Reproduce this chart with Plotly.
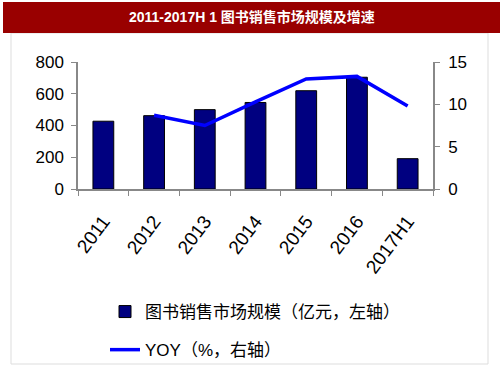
import plotly.graph_objects as go

categories = ["2011", "2012", "2013", "2014", "2015", "2016", "2017H1"]
market_size = [427, 462, 500, 545, 619, 704, 191]
yoy_x = ["2012", "2013", "2014", "2015", "2016", "2017H1"]
yoy = [8.7, 7.5, 10.3, 13.0, 13.3, 9.8]

title_text = "2011-2017H 1 图书销售市场规模及增速"
bar_name = "图书销售市场规模（亿元，左轴）"
line_name = "YOY（%，右轴）"

FONT = "Arial, 'Liberation Sans', 'Noto Sans CJK SC', sans-serif"

fig = go.Figure()
fig.add_trace(go.Bar(
    x=categories, y=market_size, name=bar_name,
    marker=dict(color="#000080", line=dict(color="#000000", width=1)),
    width=0.41, legendgroup="a", yaxis="y",
))
fig.add_trace(go.Scatter(
    x=yoy_x, y=yoy, name=line_name, mode="lines",
    line=dict(color="#0000FF", width=3.5), legendgroup="b", yaxis="y2",
))

W, H = 503, 378
L, R, T, B = 78, 70, 62, 189
pw, ph = W - L - R, H - T - B

def px(x):
    return (x - L) / pw

def py(y):
    return (H - B - y) / ph

fig.update_layout(
    width=W, height=H,
    margin=dict(l=L, r=R, t=T, b=B, pad=0, autoexpand=False),
    paper_bgcolor="white", plot_bgcolor="white",
    font=dict(family=FONT, size=16, color="#000000"),
    showlegend=True,
    legend=dict(
        x=px(105), y=py(294), xanchor="left", yanchor="top",
        orientation="v", traceorder="grouped", tracegroupgap=13,
        font=dict(size=17, family=FONT), bgcolor="rgba(0,0,0,0)",
    ),
    bargap=0.59,
    xaxis=dict(
        type="category", tickson="boundaries", tickangle=-53,
        showline=True, linecolor="#888888", linewidth=1.5,
        ticks="outside", ticklen=5, tickcolor="#888888",
        showgrid=False, tickfont=dict(size=19), automargin=False,
        ticklabelstandoff=12,
    ),
    yaxis=dict(
        range=[0, 800], dtick=200, showline=True, linecolor="#888888", linewidth=1.5,
        ticks="outside", ticklen=5, tickcolor="#888888", showgrid=False,
        zeroline=False, tickfont=dict(size=17), automargin=False,
        ticklabelstandoff=4,
    ),
    yaxis2=dict(
        range=[0, 15], dtick=5, overlaying="y", side="right",
        showline=True, linecolor="#888888", linewidth=1.5,
        ticks="outside", ticklen=5, tickcolor="#888888", showgrid=False,
        zeroline=False, tickfont=dict(size=17), automargin=False,
        ticklabelstandoff=5,
    ),
    shapes=[
        dict(type="rect", xref="paper", yref="paper",
             x0=px(11), x1=px(488), y0=py(364), y1=py(33),
             line=dict(color="#dddddd", width=1), fillcolor="rgba(0,0,0,0)", layer="below"),
        dict(type="rect", xref="paper", yref="paper",
             x0=px(3), x1=px(500), y0=py(33), y1=py(2),
             line=dict(width=0), fillcolor="#990000", layer="above"),
    ],
    annotations=[
        dict(text="<b>" + title_text + "</b>", xref="paper", yref="paper",
             x=px(251.5), y=py(17), xanchor="center", yanchor="middle",
             showarrow=False, font=dict(size=14, color="white", family=FONT)),
    ],
)

fig.write_html("out.html", config={"displayModeBar": False})

with open("out.html", "r", encoding="utf-8") as f:
    html = f.read()
html = html.replace("<body>", '<body style="margin:0;padding:0;">', 1)
with open("out.html", "w", encoding="utf-8") as f:
    f.write(html)
